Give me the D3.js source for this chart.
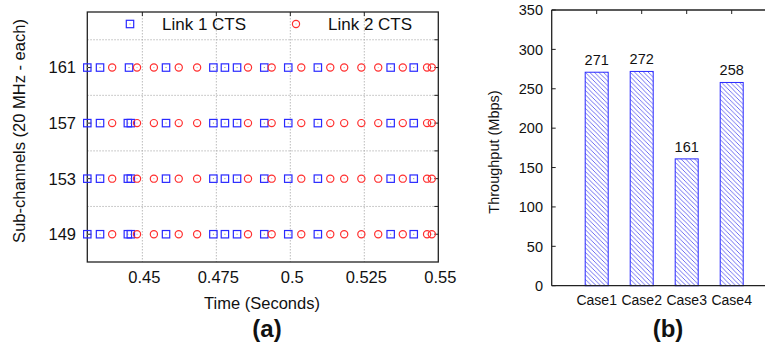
<!DOCTYPE html>
<html>
<head>
<meta charset="utf-8">
<script src="https://cdn.jsdelivr.net/npm/d3@7"></script>
<style>
  body { margin: 0; background: #fff; }
  text { font-family: "Liberation Sans", Arial, sans-serif; fill: #111; }
</style>
</head>
<body>
<svg id="chart" width="765" height="342"></svg>
<script>
// ---- data ----
let channels = [149, 153, 157, 161]
let link1Times = [0.4314, 0.4357, 0.4451, 0.4461, 0.4580, 0.4740, 0.4779, 0.4820,
                  0.4912, 0.4993, 0.5093, 0.5339, 0.5417]
let link1Times161 = [0.4314, 0.4357, 0.4455, 0.4580, 0.4740, 0.4779, 0.4820,
                     0.4912, 0.4993, 0.5093, 0.5339, 0.5417]
let link2Times = [0.4398, 0.4482, 0.4539, 0.4623, 0.4685, 0.4857, 0.4937, 0.5037,
                  0.5135, 0.5182, 0.5240, 0.5297, 0.5380, 0.5462, 0.5478]
let timeTicks = [0.45, 0.475, 0.5, 0.525, 0.55]
let gridChannels = [151, 155, 159, 163]

let cases = ["Case1", "Case2", "Case3", "Case4"]
let throughput = [271, 272, 161, 258]
let throughputTicks = [0, 50, 100, 150, 200, 250, 300, 350]

let svg = d3.select("#chart")
let blue = "#2a2aff"
let red = "#ff3030"

// ===== panel (a) =====
let x = d3.scaleLinear().domain([0.4314, 0.55]).range([87.3, 438.3])
let y = d3.scaleLinear().domain([147, 165]).range([262, 12])

let a = svg.append("g")

// grid
a.selectAll(".vgrid").data(timeTicks.slice(0, -1)).enter().append("line")
  .attr("x1", d => x(d)).attr("x2", d => x(d))
  .attr("y1", y(165)).attr("y2", y(147))
  .attr("stroke", "#aaa").attr("stroke-width", 0.8).attr("stroke-dasharray", "1.5,1.5")
a.selectAll(".hgrid").data(gridChannels).enter().append("line")
  .attr("x1", x.range()[0]).attr("x2", x.range()[1])
  .attr("y1", d => y(d)).attr("y2", d => y(d))
  .attr("stroke", "#aaa").attr("stroke-width", 0.8).attr("stroke-dasharray", "1.5,1.5")

// frame
a.append("rect")
  .attr("x", x.range()[0]).attr("y", y(165))
  .attr("width", x.range()[1] - x.range()[0]).attr("height", y(147) - y(165))
  .attr("fill", "none").attr("stroke", "#222").attr("stroke-width", 1.3)

// ticks
a.selectAll(".ytickL").data(channels).enter().append("line")
  .attr("x1", x.range()[0]).attr("x2", x.range()[0] + 4)
  .attr("y1", d => y(d)).attr("y2", d => y(d)).attr("stroke", "#222")
a.selectAll(".ytickR").data(channels.concat(gridChannels)).enter().append("line")
  .attr("x1", x.range()[1]).attr("x2", x.range()[1] - 4)
  .attr("y1", d => y(d)).attr("y2", d => y(d)).attr("stroke", "#222")
a.selectAll(".xtickT").data(timeTicks.slice(0, -1)).enter().append("line")
  .attr("x1", d => x(d)).attr("x2", d => x(d))
  .attr("y1", y(165)).attr("y2", y(165) + 4).attr("stroke", "#222")

// tick labels
a.selectAll(".ylab").data(channels).enter().append("text")
  .attr("x", 76).attr("y", d => y(d)).attr("dy", "0.36em")
  .attr("text-anchor", "end").attr("font-size", 16.5)
  .text(d => d)
a.selectAll(".xlab").data(timeTicks).enter().append("text")
  .attr("x", d => x(d) + 2).attr("y", 283)
  .attr("text-anchor", "middle").attr("font-size", 16.5)
  .text(d => d)

// axis titles
a.append("text").attr("x", 262).attr("y", 309)
  .attr("text-anchor", "middle").attr("font-size", 16.5).text("Time (Seconds)")
a.append("text").attr("transform", "translate(25,131) rotate(-90)")
  .attr("text-anchor", "middle").attr("font-size", 16.5)
  .text("Sub-channels (20 MHz - each)")
a.append("text").attr("x", 267).attr("y", 337)
  .attr("text-anchor", "middle").attr("font-size", 24).attr("font-weight", "bold")
  .text("(a)")

// points
let sq = 7.4
let link1 = []
channels.forEach(c => {
  let ts = c == 161 ? link1Times161 : link1Times
  ts.forEach(t => link1.push({t: t, c: c}))
})
let link2 = []
channels.forEach(c => link2Times.forEach(t => link2.push({t: t, c: c})))

function square(g, cx, cy) {
  g.append("rect")
    .attr("x", cx - sq/2).attr("y", cy - sq/2).attr("width", sq).attr("height", sq)
    .attr("fill", "none").attr("stroke", blue).attr("stroke-width", 1.2)
  g.append("rect").attr("x", cx - 0.5).attr("y", cy - 0.5).attr("width", 1).attr("height", 1)
    .attr("fill", "#888")
}
function circle(g, cx, cy) {
  g.append("circle").attr("cx", cx).attr("cy", cy).attr("r", 3.6)
    .attr("fill", "none").attr("stroke", red).attr("stroke-width", 1.2)
  g.append("rect").attr("x", cx - 0.5).attr("y", cy - 0.5).attr("width", 1).attr("height", 1)
    .attr("fill", "#f99")
}

let pts = a.append("g")
link1.forEach(d => square(pts, x(d.t), y(d.c)))
link2.forEach(d => circle(pts, x(d.t), y(d.c)))

// legend
let lg = a.append("g")
square(lg, 130, 24)
lg.append("text").attr("x", 162).attr("y", 30).attr("font-size", 17).text("Link 1 CTS")
circle(lg, 296, 24)
lg.append("text").attr("x", 328).attr("y", 30).attr("font-size", 17).text("Link 2 CTS")

// ===== panel (b) =====
let bx = d3.scaleLinear().domain([0, 5]).range([551.7, 776.7])
let by = d3.scaleLinear().domain([0, 350]).range([285.7, 10])
let b = svg.append("g")

let defs = svg.append("defs")
defs.append("pattern").attr("id", "hatch")
  .attr("patternUnits", "userSpaceOnUse").attr("width", 4.5).attr("height", 4.5)
  .append("path")
  .attr("d", "M0,0 L4.5,4.5 M-1,3.5 L1,5.5 M3.5,-1 L5.5,1")
  .attr("stroke", "#4a4aee").attr("stroke-width", 0.8)

let barW = 23
b.selectAll(".bar").data(throughput).enter().append("rect")
  .attr("x", (d, i) => bx(i + 1) - barW/2)
  .attr("y", d => by(d))
  .attr("width", barW)
  .attr("height", d => by(0) - by(d))
  .attr("fill", "url(#hatch)").attr("stroke", blue).attr("stroke-width", 1)

b.selectAll(".val").data(throughput).enter().append("text")
  .attr("x", (d, i) => bx(i + 1)).attr("y", d => by(d) - 7)
  .attr("text-anchor", "middle").attr("font-size", 14.5).text(d => d)

// axes lines
b.append("line").attr("x1", bx(0)).attr("x2", 765).attr("y1", by(0)).attr("y2", by(0))
  .attr("stroke", "#222").attr("stroke-width", 1.3)
b.append("line").attr("x1", bx(0)).attr("x2", 765).attr("y1", by(350)).attr("y2", by(350))
  .attr("stroke", "#222").attr("stroke-width", 1.3)
b.append("line").attr("x1", bx(0)).attr("x2", bx(0)).attr("y1", by(0)).attr("y2", by(350))
  .attr("stroke", "#222").attr("stroke-width", 1.3)

b.selectAll(".yt").data(throughputTicks).enter().append("line")
  .attr("x1", bx(0)).attr("x2", bx(0) + 4)
  .attr("y1", d => by(d)).attr("y2", d => by(d)).attr("stroke", "#222")
b.selectAll(".ttop").data(cases).enter().append("line")
  .attr("x1", (d, i) => bx(i + 1)).attr("x2", (d, i) => bx(i + 1))
  .attr("y1", by(350)).attr("y2", by(350) + 4).attr("stroke", "#222")

b.selectAll(".ylb").data(throughputTicks).enter().append("text")
  .attr("x", 543).attr("y", d => by(d)).attr("dy", "0.36em")
  .attr("text-anchor", "end").attr("font-size", 14.5).text(d => d)
b.selectAll(".xlb").data(cases).enter().append("text")
  .attr("x", (d, i) => bx(i + 1)).attr("y", 305)
  .attr("text-anchor", "middle").attr("font-size", 14).text(d => d)

b.append("text").attr("transform", "translate(499,152) rotate(-90)")
  .attr("text-anchor", "middle").attr("font-size", 14.5).text("Throughput (Mbps)")
b.append("text").attr("x", 668).attr("y", 337)
  .attr("text-anchor", "middle").attr("font-size", 24).attr("font-weight", "bold")
  .text("(b)")
</script>
</body>
</html>
